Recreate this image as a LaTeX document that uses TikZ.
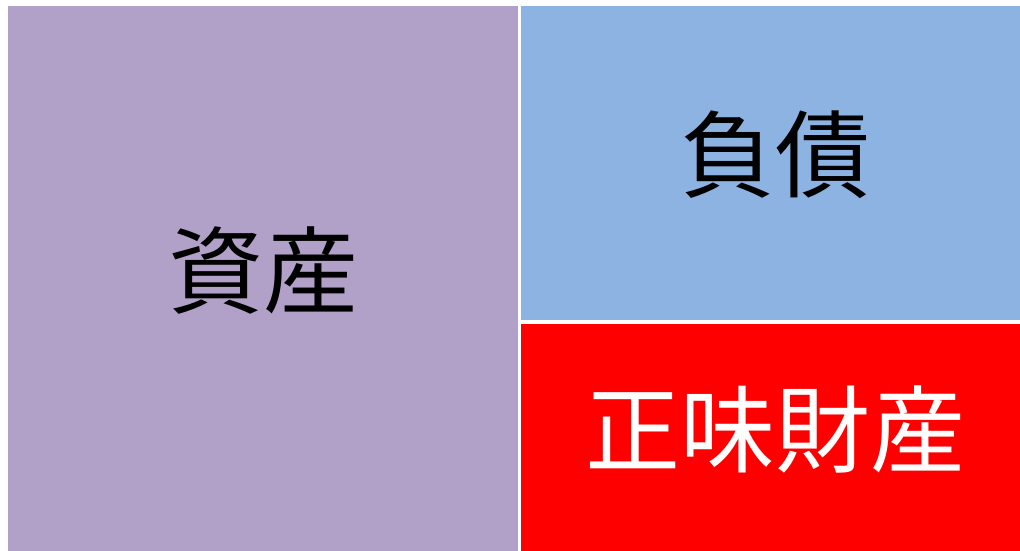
\documentclass[tikz,border=0pt]{standalone}
\usepackage{fontspec}
\usepackage{tikz}
\usetikzlibrary{positioning}
\newfontfamily\jpfont{Noto Sans CJK JP}
\definecolor{Lavender}{HTML}{B1A0C7}
\definecolor{SkyBlue}{HTML}{8DB3E2}
\definecolor{Red}{rgb}{1,0,0}
\tikzstyle{blk}=[%
      rectangle, draw=none, inner sep=0pt, outer sep=0pt,
      font=\jpfont\fontsize{95}{100}\selectfont, align=center
]

\begin{document}
\begin{tikzpicture}[x=1pt, y=1pt]
    \fill[white] (0,0) rectangle (1020,551);
    \useasboundingbox (0,0) rectangle (1020,551);

    \node[blk, fill=Lavender, minimum width=510pt, minimum height=545pt,
          anchor=south west] (asset) at (8,0) {};
    \node[blk, fill=SkyBlue, minimum width=499pt, minimum height=314pt,
          anchor=south west] (debt) at (521,231) {};
    \node[blk, fill=Red, minimum width=499pt, minimum height=227pt,
          anchor=south west] (net) at (521,0) {};

    \node[blk, black] (assetlbl) at ([yshift=8pt]asset.center) {資産};
    \node[blk, black] (debtlbl) at ([xshift=5pt, yshift=8pt]debt.center) {負債};
    \node[blk, white] (netlbl) at ([xshift=5pt, yshift=8pt]net.center) {正味財産};

  \end{tikzpicture}
\end{document}
